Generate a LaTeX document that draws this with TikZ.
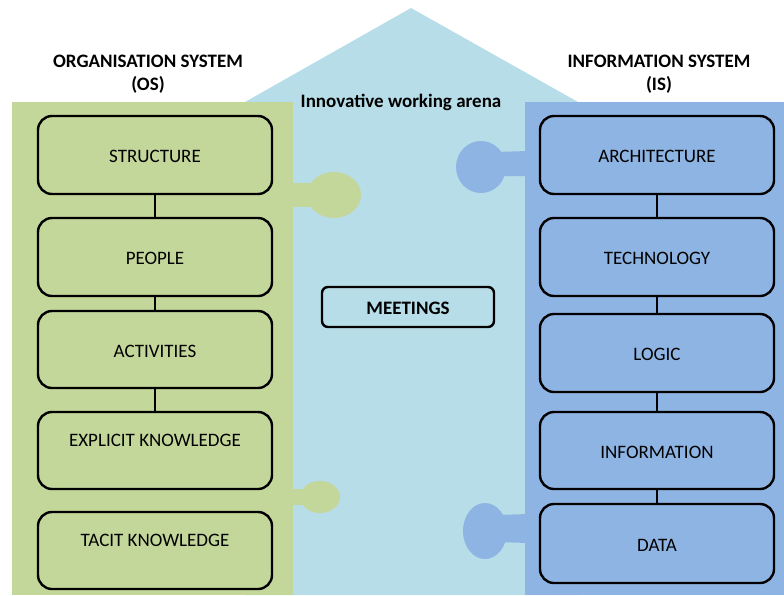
\documentclass[tikz,border=0pt]{standalone}
\usepackage{fontspec}
\setmainfont{Carlito}
\definecolor{osgreen}{HTML}{C4D79B}
\definecolor{isblue}{HTML}{8EB4E3}
\definecolor{arena}{HTML}{B7DDE8}
\tikzset{
  box/.style={draw=black, line width=2.4pt, rounded corners=14pt, minimum width=234pt,
    inner sep=0pt, font=\fontsize{19}{22}\selectfont, text height=15pt, text depth=0pt},
  upper/.style={text depth=24pt},
  link/.style={line width=2.4pt},
  heading/.style={align=center, font=\fontsize{19}{23}\bfseries\selectfont},
}
\begin{document}
\begin{tikzpicture}[x=1pt,y=-1pt]
\useasboundingbox (0,0) rectangle (784,595);
\fill[white] (0,0) rectangle (784,595);
% arena (house)
\fill[arena] (245,102) -- (411,8) -- (578,102) -- (578,595) -- (245,595) -- cycle;
% puzzle tabs
\fill[osgreen] (290,183) rectangle (312,207);
\fill[osgreen] (334,195) ellipse [x radius=27, y radius=23];
\fill[osgreen] (290,489) rectangle (308,505);
\fill[osgreen] (320,497) ellipse [x radius=20, y radius=16];
\fill[isblue] (495,152) -- (528,151) -- (528,176) -- (495,176) -- cycle;
\fill[isblue] (481,167) ellipse [x radius=25, y radius=26];
\fill[isblue] (498,515) -- (528,514) -- (528,543) -- (498,542) -- cycle;
\fill[isblue] (485,531) ellipse [x radius=22, y radius=28];
% panels
\fill[osgreen] (12,102) rectangle (293,595);
\fill[isblue] (525,102) rectangle (784,595);
% headings
\node[heading] (os) at (148,74) {ORGANISATION SYSTEM\\(OS)};
\node[heading] (is) at (659,74) {INFORMATION SYSTEM\\(IS)};
\node[font=\fontsize{19}{22}\bfseries\selectfont] (arenalabel) at (401,102) {Innovative working arena};
% left boxes
\node[box, minimum height=78pt] (structure) at (155,155) {STRUCTURE};
\node[box, minimum height=78pt] (people) at (155,257) {PEOPLE};
\node[box, minimum height=77pt] (activities) at (155,349.5) {ACTIVITIES};
\node[box, upper, minimum height=77pt] (explicit) at (155,450.5) {EXPLICIT KNOWLEDGE};
\node[box, upper, minimum height=77pt] (tacit) at (155,550.5) {TACIT KNOWLEDGE};
\draw[link] (structure) -- (people);
\draw[link] (people) -- (activities);
\draw[link] (activities) -- (explicit);
% right boxes
\node[box, minimum height=78pt] (architecture) at (657,155) {ARCHITECTURE};
\node[box, minimum height=78pt] (technology) at (657,257) {TECHNOLOGY};
\node[box, minimum height=78pt] (logic) at (657,353) {LOGIC};
\node[box, minimum height=77pt] (information) at (657,450.5) {INFORMATION};
\node[box, minimum height=79pt] (data) at (657,543.5) {DATA};
\draw[link] (architecture) -- (technology);
\draw[link] (technology) -- (logic);
\draw[link] (logic) -- (information);
\draw[link] (information) -- (data);
% meetings
\node[draw=black, line width=2.4pt, rounded corners=6pt, minimum width=172pt, minimum height=40pt,
  inner sep=0pt, font=\fontsize{19}{22}\bfseries\selectfont, text height=14pt, text depth=0pt]
  (meetings) at (408,307) {MEETINGS};
\end{tikzpicture}
\end{document}
